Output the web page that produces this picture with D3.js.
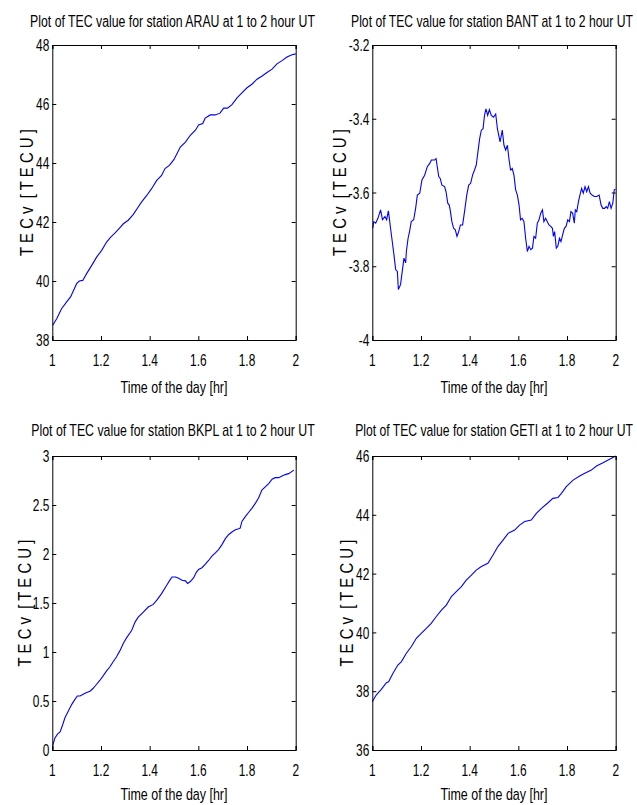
<!DOCTYPE html>
<html>
<head>
<meta charset="utf-8">
<script src="https://cdn.jsdelivr.net/npm/d3@7/dist/d3.min.js"></script>
<style>
  html, body { margin: 0; padding: 0; background: #fff; }
  svg { display: block; }
  text { font-family: "Liberation Sans", Arial, sans-serif; fill: #000; }
</style>
</head>
<body>
<svg id="chart" width="637" height="805"></svg>
<script>
// ---------- DATA ----------
const stations = ["ARAU", "BANT", "BKPL", "GETI"];
const xTicks = [1, 1.2, 1.4, 1.6, 1.8, 2];
const xTickLabels = ["1", "1.2", "1.4", "1.6", "1.8", "2"];

const arauYTicks = [38, 40, 42, 44, 46, 48];
const arauYTickLabels = ["38", "40", "42", "44", "46", "48"];
const bantYTicks = [-4, -3.8, -3.6, -3.4, -3.2];
const bantYTickLabels = ["-4", "-3.8", "-3.6", "-3.4", "-3.2"];
const bkplYTicks = [0, 0.5, 1, 1.5, 2, 2.5, 3];
const bkplYTickLabels = ["0", "0.5", "1", "1.5", "2", "2.5", "3"];
const getiYTicks = [36, 38, 40, 42, 44, 46];
const getiYTickLabels = ["36", "38", "40", "42", "44", "46"];

const arauT = [1.0015,1.018,1.038,1.059,1.075,1.100,1.111,1.125,1.141,1.162,1.182,1.203,1.223,1.240,1.258,1.278,1.292,1.312,1.333,1.353,1.367,1.388,1.408,1.429,1.449,1.463,1.481,1.500,1.512,1.526,1.547,1.567,1.588,1.601,1.618,1.628,1.649,1.669,1.689,1.704,1.720,1.738,1.759,1.779,1.800,1.820,1.841,1.862,1.882,1.903,1.923,1.944,1.964,1.985,2.0];
const arauV = [38.50,38.72,39.06,39.29,39.46,39.91,40.00,40.02,40.25,40.53,40.81,41.04,41.32,41.49,41.63,41.81,41.94,42.06,42.26,42.51,42.68,42.90,43.13,43.41,43.58,43.81,43.92,44.12,44.31,44.54,44.71,44.94,45.11,45.29,45.34,45.52,45.63,45.63,45.69,45.86,45.86,45.98,46.21,46.38,46.55,46.67,46.84,46.95,47.07,47.18,47.36,47.47,47.59,47.67,47.70];

const bantT = [1.0016,1.006,1.014,1.023,1.034,1.042,1.052,1.059,1.066,1.070,1.075,1.082,1.089,1.096,1.103,1.107,1.116,1.123,1.130,1.137,1.140,1.147,1.153,1.160,1.170,1.178,1.185,1.195,1.204,1.215,1.226,1.236,1.243,1.256,1.262,1.266,1.273,1.279,1.286,1.297,1.303,1.310,1.316,1.320,1.327,1.334,1.341,1.348,1.355,1.362,1.371,1.380,1.388,1.396,1.404,1.412,1.420,1.427,1.434,1.441,1.448,1.455,1.461,1.467,1.474,1.481,1.489,1.498,1.507,1.514,1.525,1.534,1.541,1.548,1.555,1.562,1.568,1.575,1.582,1.589,1.596,1.603,1.609,1.616,1.623,1.630,1.637,1.644,1.651,1.658,1.664,1.671,1.678,1.685,1.692,1.699,1.705,1.712,1.719,1.726,1.733,1.740,1.744,1.749,1.756,1.762,1.769,1.775,1.782,1.789,1.796,1.803,1.810,1.816,1.823,1.830,1.834,1.840,1.847,1.853,1.860,1.867,1.874,1.881,1.888,1.895,1.903,1.912,1.922,1.932,1.940,1.947,1.954,1.961,1.967,1.974,1.981,1.988,1.994,1.999];
const bantV = [-3.697,-3.679,-3.683,-3.670,-3.647,-3.674,-3.665,-3.674,-3.650,-3.670,-3.697,-3.733,-3.769,-3.809,-3.814,-3.863,-3.850,-3.814,-3.778,-3.791,-3.760,-3.724,-3.706,-3.679,-3.674,-3.643,-3.607,-3.602,-3.566,-3.553,-3.530,-3.521,-3.512,-3.512,-3.508,-3.526,-3.557,-3.562,-3.580,-3.584,-3.598,-3.629,-3.634,-3.647,-3.679,-3.697,-3.701,-3.719,-3.706,-3.688,-3.688,-3.647,-3.607,-3.580,-3.575,-3.553,-3.539,-3.526,-3.490,-3.454,-3.431,-3.427,-3.391,-3.373,-3.391,-3.375,-3.391,-3.396,-3.387,-3.427,-3.463,-3.431,-3.472,-3.485,-3.472,-3.512,-3.539,-3.535,-3.553,-3.593,-3.607,-3.634,-3.674,-3.670,-3.679,-3.724,-3.760,-3.746,-3.755,-3.751,-3.719,-3.724,-3.683,-3.674,-3.656,-3.647,-3.679,-3.670,-3.679,-3.688,-3.692,-3.697,-3.719,-3.706,-3.751,-3.746,-3.724,-3.733,-3.715,-3.697,-3.692,-3.674,-3.679,-3.652,-3.656,-3.683,-3.647,-3.652,-3.625,-3.607,-3.589,-3.602,-3.584,-3.598,-3.584,-3.602,-3.607,-3.611,-3.611,-3.607,-3.634,-3.643,-3.643,-3.638,-3.643,-3.625,-3.643,-3.629,-3.593,-3.591];

const bkplT = [1.0015,1.011,1.022,1.032,1.043,1.052,1.066,1.080,1.093,1.103,1.114,1.127,1.141,1.155,1.168,1.182,1.196,1.209,1.223,1.237,1.250,1.264,1.278,1.292,1.305,1.326,1.340,1.353,1.374,1.394,1.415,1.431,1.449,1.470,1.483,1.492,1.506,1.519,1.533,1.547,1.556,1.567,1.581,1.591,1.601,1.615,1.628,1.642,1.656,1.670,1.683,1.697,1.711,1.724,1.738,1.752,1.766,1.772,1.779,1.793,1.807,1.820,1.834,1.848,1.861,1.875,1.889,1.903,1.916,1.930,1.944,1.957,1.971,1.985,1.992];
const bkplV = [0.045,0.123,0.165,0.185,0.260,0.329,0.397,0.466,0.517,0.551,0.551,0.568,0.586,0.600,0.630,0.671,0.712,0.757,0.808,0.849,0.901,0.952,1.014,1.089,1.144,1.219,1.305,1.356,1.408,1.459,1.486,1.534,1.596,1.682,1.733,1.766,1.766,1.753,1.732,1.726,1.700,1.719,1.759,1.810,1.843,1.860,1.894,1.934,1.978,2.012,2.045,2.096,2.157,2.197,2.224,2.247,2.258,2.264,2.332,2.382,2.426,2.466,2.517,2.574,2.652,2.685,2.719,2.763,2.779,2.779,2.796,2.810,2.820,2.843,2.854];

const getiT = [1.0,1.016,1.037,1.058,1.067,1.085,1.105,1.119,1.140,1.160,1.181,1.201,1.222,1.242,1.263,1.284,1.304,1.325,1.345,1.366,1.386,1.407,1.427,1.448,1.475,1.496,1.516,1.537,1.558,1.585,1.605,1.626,1.653,1.674,1.695,1.722,1.742,1.763,1.777,1.797,1.825,1.852,1.873,1.900,1.921,1.948,1.975,2.0];
const getiV = [37.64,37.87,38.06,38.29,38.32,38.61,38.89,39.00,39.29,39.51,39.80,39.97,40.14,40.31,40.54,40.76,40.93,41.22,41.39,41.56,41.78,41.95,42.12,42.24,42.35,42.63,42.92,43.14,43.37,43.48,43.65,43.77,43.82,44.05,44.22,44.41,44.56,44.59,44.73,44.96,45.18,45.32,45.41,45.52,45.66,45.77,45.89,46.0];

// ---------- LAYOUT ----------
const panels = [
  { st: stations[0], t: arauT, v: arauV, yt: arauYTicks, ytl: arauYTickLabels, dom: [38, 48],
    l: 52.3, r: 295.7, top: 45, bot: 340, titleX: 172.5, titleY: 27, titleW: 285, ylabX: 33, xlabY: 393 },
  { st: stations[1], t: bantT, v: bantV, yt: bantYTicks, ytl: bantYTickLabels, dom: [-4, -3.2],
    l: 372.3, r: 615.7, top: 45, bot: 340, titleX: 492, titleY: 27, titleW: 282, ylabX: 346, xlabY: 393 },
  { st: stations[2], t: bkplT, v: bkplV, yt: bkplYTicks, ytl: bkplYTickLabels, dom: [0, 3],
    l: 52.3, r: 295.7, top: 456, bot: 750, titleX: 173, titleY: 436, titleW: 284, ylabX: 31, xlabY: 800 },
  { st: stations[3], t: getiT, v: getiV, yt: getiYTicks, ytl: getiYTickLabels, dom: [36, 46],
    l: 372.3, r: 615.7, top: 456, bot: 750, titleX: 494, titleY: 436, titleW: 278, ylabX: 353, xlabY: 800 }
];

const svg = d3.select("#chart");
const K = 0.7; // horizontal condensing of tick labels

// place a text and squeeze it along its own direction to a target length
function fitText(sel, targetW, tx, ty, rot) {
  const natural = sel.node().getComputedTextLength();
  const k = targetW / natural;
  sel.attr("transform", `translate(${tx},${ty})` + (rot ? ` rotate(${rot})` : "") + ` scale(${k},1)`);
}

panels.forEach(p => {
  const x = d3.scaleLinear().domain([1, 2]).range([p.l, p.r]);
  const y = d3.scaleLinear().domain(p.dom).range([p.bot, p.top]);
  const g = svg.append("g");

  // line
  const pts = p.t.map((t, i) => [t, p.v[i]]);
  g.append("path")
    .datum(pts)
    .attr("fill", "none")
    .attr("stroke", "#0000ff")
    .attr("stroke-width", 1.1)
    .attr("d", d3.line().x(d => x(d[0])).y(d => y(d[1])));

  // axes with inward ticks on all sides
  const tl = 4;
  const axB = d3.axisBottom(x).tickValues(xTicks).tickSize(-tl).tickFormat("");
  const axT = d3.axisTop(x).tickValues(xTicks).tickSize(-tl).tickFormat("");
  const axL = d3.axisLeft(y).tickValues(p.yt).tickSize(-tl).tickFormat("");
  const axR = d3.axisRight(y).tickValues(p.yt).tickSize(-tl).tickFormat("");
  [[axB, `translate(0,${p.bot})`], [axT, `translate(0,${p.top})`],
   [axL, `translate(${p.l},0)`], [axR, `translate(${p.r},0)`]].forEach(([ax, tr]) => {
    const a = g.append("g").attr("transform", tr).call(ax);
    a.select(".domain").attr("stroke", "#000").attr("stroke-width", 1);
    a.selectAll(".tick line").attr("stroke", "#000").attr("stroke-width", 1);
  });

  // x tick labels
  g.selectAll(".xtl").data(xTicks).enter().append("text")
    .attr("transform", (d) => `translate(${x(d)},${p.bot + 26}) scale(${K},1)`)
    .attr("text-anchor", "middle")
    .style("font-size", "17px")
    .text((d, i) => xTickLabels[i]);

  // y tick labels
  g.selectAll(".ytl").data(p.yt).enter().append("text")
    .attr("transform", (d) => `translate(${p.l - 3},${y(d)}) scale(${K},1)`)
    .attr("text-anchor", "end")
    .attr("dy", "0.36em")
    .style("font-size", "17px")
    .text((d, i) => p.ytl[i]);

  // title
  const tt = g.append("text")
    .attr("text-anchor", "middle")
    .style("font-size", "16px")
    .text(`Plot of TEC value for station ${p.st} at 1 to 2 hour UT`);
  fitText(tt, p.titleW, p.titleX, p.titleY, 0);

  // x label
  const xl = g.append("text")
    .attr("text-anchor", "middle")
    .style("font-size", "16px")
    .text("Time of the day [hr]");
  fitText(xl, 107, (p.l + p.r) / 2, p.xlabY, 0);

  // y label
  const yl = g.append("text")
    .attr("text-anchor", "middle")
    .style("font-size", "18px")
    .style("white-space", "pre")
    .text("T E C v  [ T E C U ]");
  fitText(yl, 127, p.ylabX, (p.top + p.bot) / 2, -90);
});
</script>
</body>
</html>
